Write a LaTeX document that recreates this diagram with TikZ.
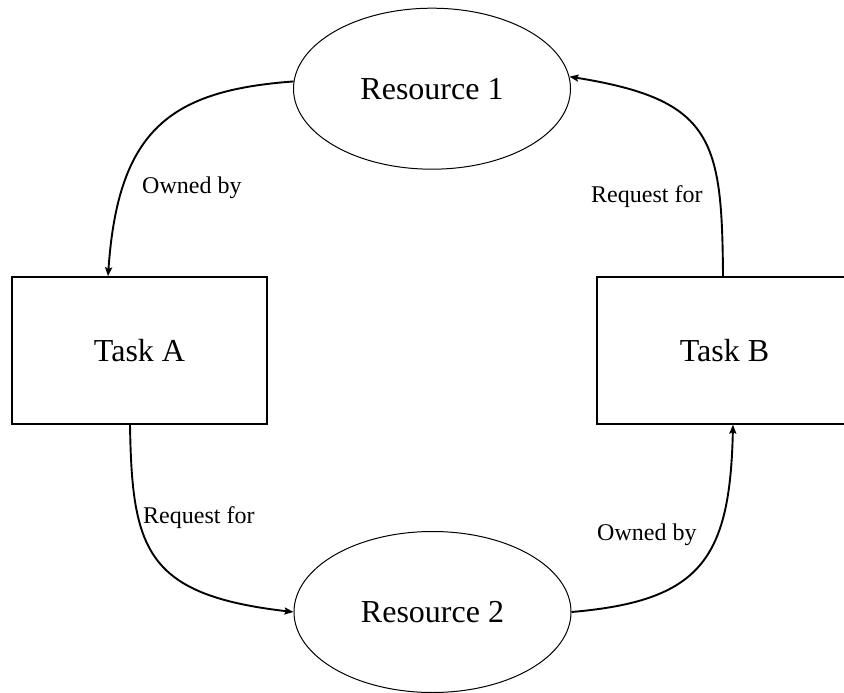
\documentclass[tikz,border=0pt]{standalone}
\usepackage{fontspec}
\setmainfont{Liberation Serif}
\usetikzlibrary{shapes.geometric,arrows.meta}
\tikzset{
  resource/.style={ellipse, draw, line width=1pt, minimum width=277pt, minimum height=161pt, inner sep=0pt, font=\fontsize{32}{38}\selectfont},
  taskbox/.style={rectangle, draw, line width=1.3pt, minimum width=255pt, minimum height=147pt, inner sep=0pt, font=\fontsize{32}{38}\selectfont},
  edgelabel/.style={anchor=base west, inner sep=0pt, font=\fontsize{24}{28}\selectfont},
  flow/.style={line width=1.9pt, -{Stealth[length=9pt,width=7pt,inset=1.5pt]}}
}
\begin{document}
\begin{tikzpicture}[x=1pt,y=-1pt]
  \clip (0,0) rectangle (844,693);
  \fill[white] (0,0) rectangle (844,693);

  % resources and tasks
  \node[resource] (r1) at (432,88.7) {Resource 1};
  \node[resource] (r2) at (432.5,612) {Resource 2};
  \node[taskbox] (ta) at (139.5,350.5) {Task A};
  \node[taskbox] (tb) at (724.5,350.5) {Task B};

  % ownership and request edges
  \draw[flow] (r1.177) .. controls +(-123,9) and +(10,-147) .. ([xshift=-31.5pt]ta.north);
  \draw[flow] ([xshift=-1.5pt]tb.north) .. controls +(-1,-137) and +(144,23) .. (r1.5);
  \draw[flow] ([xshift=-9.5pt]ta.south) .. controls +(2,125) and +(-148,-17) .. (r2.180);
  \draw[flow] (r2.0) .. controls +(129,-11) and +(-3,135) .. ([xshift=8.5pt]tb.south);

  % edge labels
  \node[edgelabel] (l1) at (142,193) {Owned by};
  \node[edgelabel] (l2) at (591,202) {Request for};
  \node[edgelabel] (l3) at (143,523) {Request for};
  \node[edgelabel] (l4) at (597,540) {Owned by};
\end{tikzpicture}
\end{document}
